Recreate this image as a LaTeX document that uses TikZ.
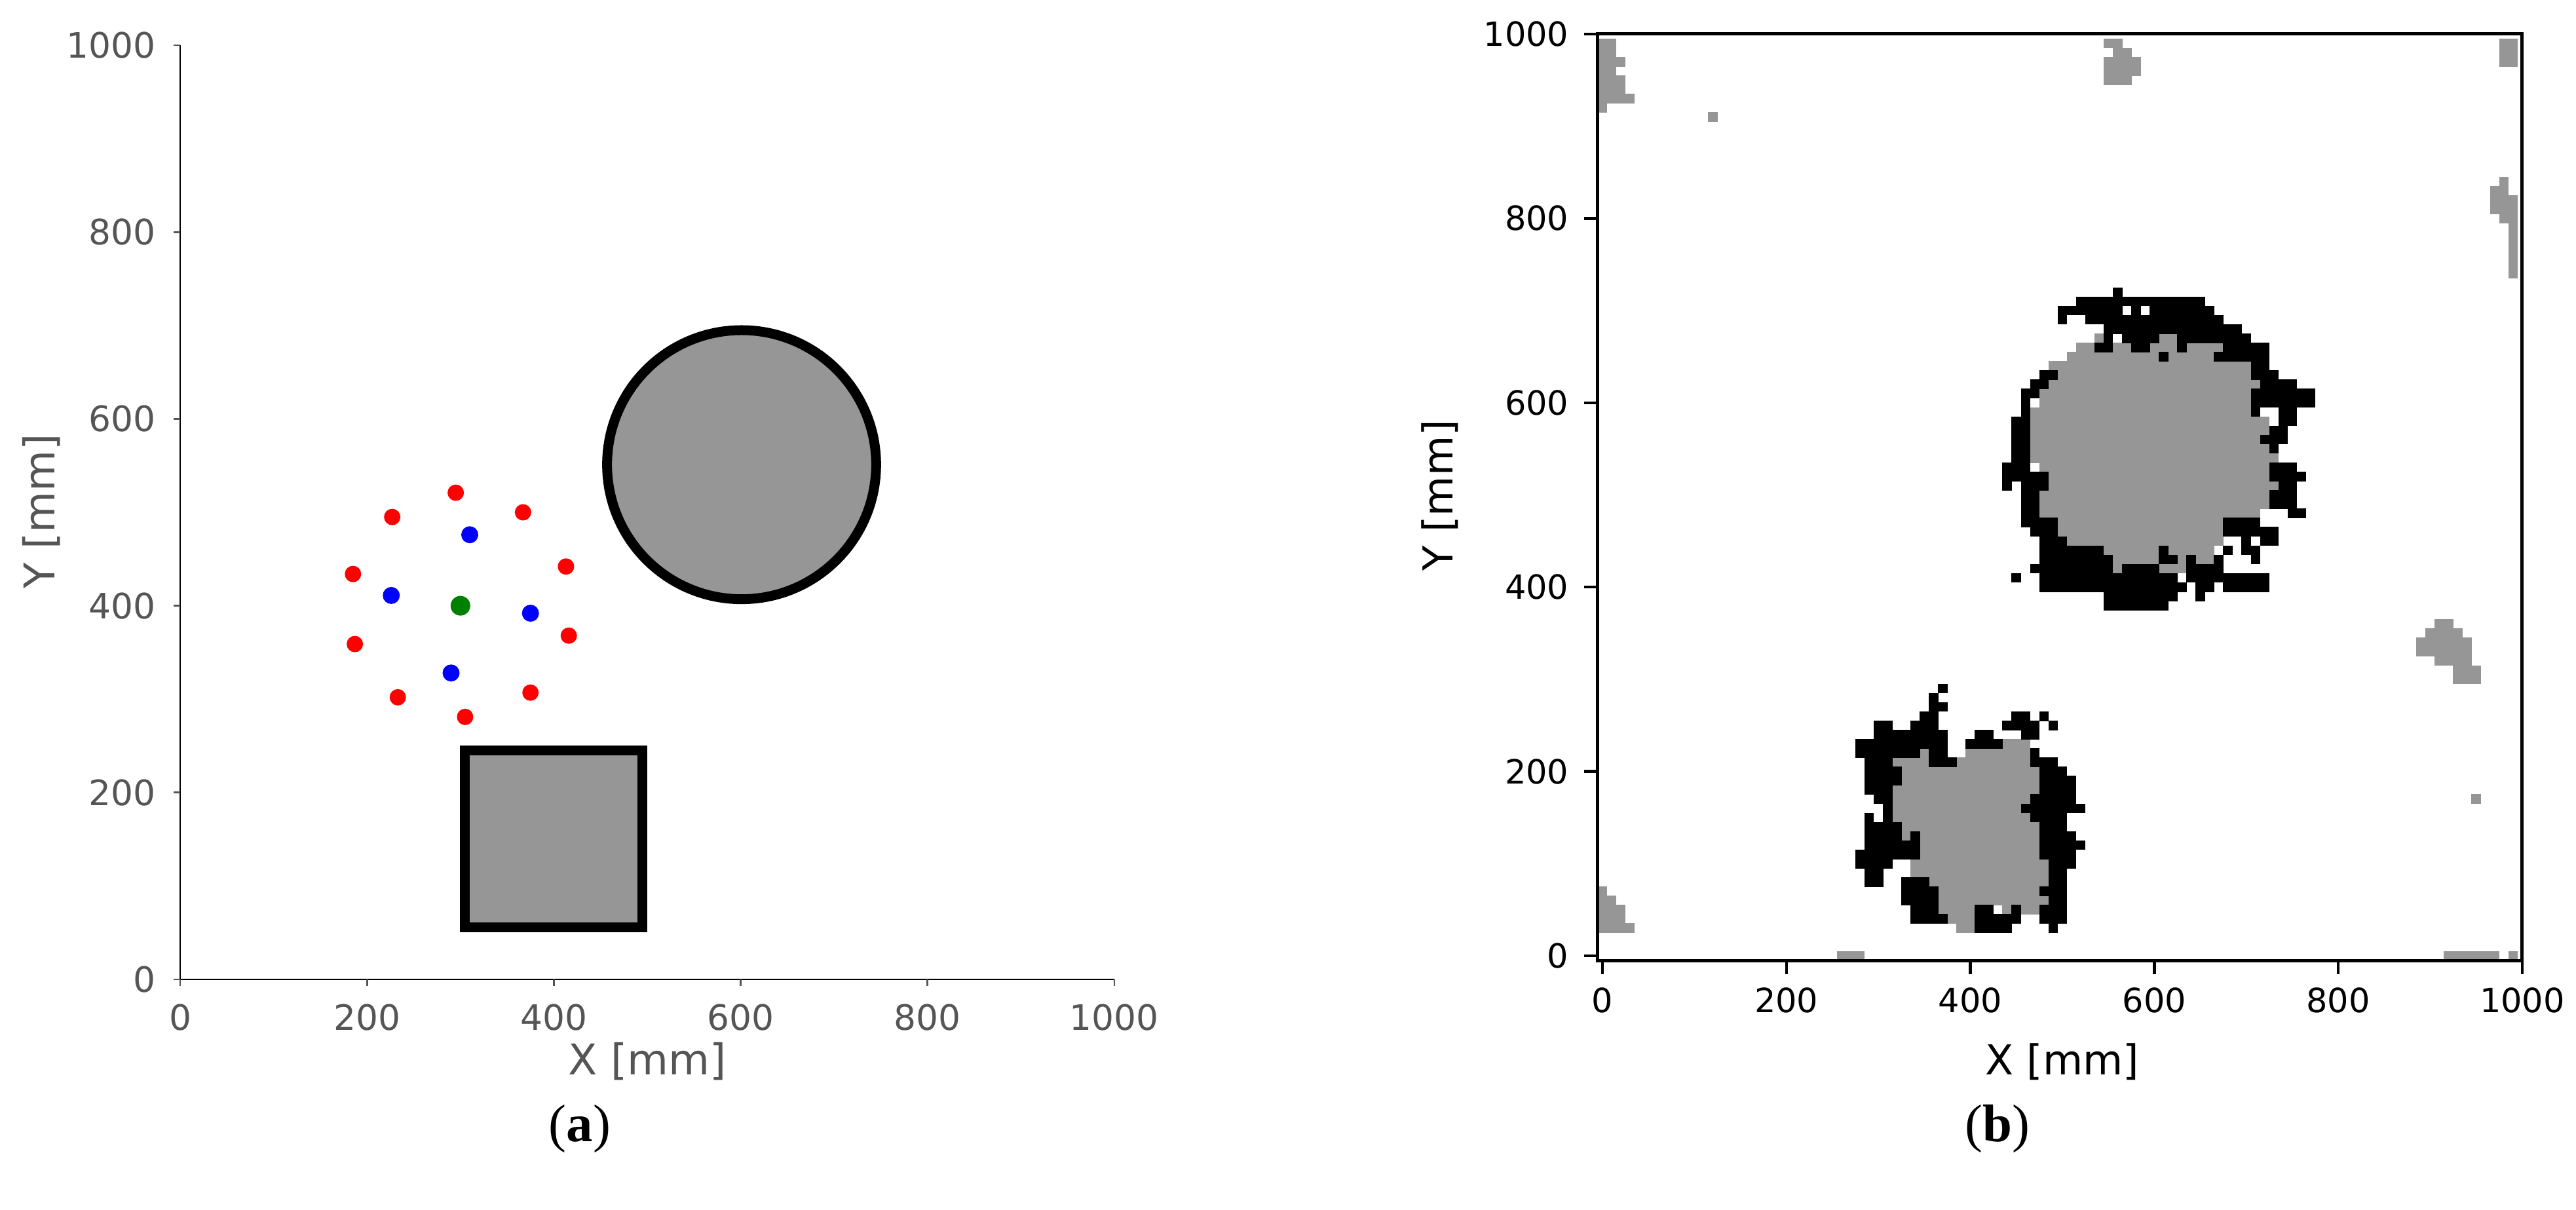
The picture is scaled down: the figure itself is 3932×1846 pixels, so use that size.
\documentclass[tikz,border=0pt]{standalone}
\usepackage{fontspec}
\setmainfont{DejaVu Sans}
\newfontfamily\capfont{Liberation Serif}
\definecolor{cellgray}{RGB}{150,150,150}
\definecolor{labgray}{RGB}{85,85,85}
\definecolor{dotred}{RGB}{255,0,0}
\definecolor{dotblue}{RGB}{0,0,255}
\definecolor{dotgreen}{RGB}{0,128,0}
\begin{document}
\begin{tikzpicture}[x=0.1mm,y=-0.1mm,
  lticklab/.style={font=\fontsize{15.2}{16}\selectfont, text=labgray, inner sep=0pt},
  laxlab/.style={font=\fontsize{18.4}{20}\selectfont, text=labgray, inner sep=0pt},
  rticklab/.style={font=\fontsize{14.5}{16}\selectfont, text=black, inner sep=0pt},
  raxlab/.style={font=\fontsize{17.9}{20}\selectfont, text=black, inner sep=0pt},
  laxis/.style={line width=0.27mm, black},
  ltick/.style={line width=0.27mm, labgray},
  rframe/.style={line width=0.5mm, black},
  rtick/.style={line width=0.45mm, black},
  obstacle/.style={fill=cellgray, draw=black, line width=1.5mm},
  caption/.style={font=\capfont\fontsize{23}{26}\selectfont, inner sep=0pt}]
\useasboundingbox (0,0) rectangle (3932,1846);

% ---------------- left plot (a) ----------------
\begin{scope}[shift={(27.5mm,-149.5mm)}, x=0.1426mm, y=0.1426mm]
  \draw[laxis] (0,0) coordinate (lo) -- (1000,0) coordinate (lx);
  \draw[laxis] (lo) -- (0,1000) coordinate (ly);
  \foreach \v in {0,200,400,600,800,1000} {
    \draw[ltick] (\v,0) -- ++(0,-1mm);
    \draw[ltick] (0,\v) -- ++(-1mm,0);
    \node[lticklab, anchor=north] (lxt\v) at ([yshift=-3.7mm]\v,0) {\v};
    \node[lticklab, anchor=east] (lyt\v) at ([xshift=-3.7mm]0,\v) {\v};
  }
  \draw[obstacle] (601,551) circle[radius=144];
  \draw[obstacle] (305,56) rectangle (495,245);
  \foreach \px/\py in {295/521,227/495,367/500,185/434,413/442,187/359,416/368,233/302,375/307,305/281}
    \fill[dotred] (\px,\py) circle[radius=1.25mm];
  \foreach \px/\py in {310/476,226/411,375/392,290/328}
    \fill[dotblue] (\px,\py) circle[radius=1.3mm];
  \fill[dotgreen] (300,400) circle[radius=1.5mm];
\end{scope}
\node[laxlab, anchor=base] (lxlab) at (988,1640) {X [mm]};
\node[laxlab, anchor=base, rotate=90] (lylab) at (83,780) {Y [mm]};

% ---------------- right plot (b) ----------------
\begin{scope}[shift={(244.6mm,-145.9mm)}, x=0.1404mm, y=0.1407mm]
  % gray cells
  \foreach \j/\r in {
    99/{0/1,55/56,98/99}, 98/{0/1,56/57,98/99}, 97/{0/2,55/58,98/99}, 96/{0/1,55/58},
    95/{0/2,55/57}, 94/{0/2}, 93/{0/3}, 92/{0/0}, 91/{12/12},
    84/{98/98}, 83/{97/98}, 82/{97/99}, 81/{97/99}, 80/{98/99},
    79/{99/99}, 78/{99/99}, 77/{99/99}, 76/{99/99}, 75/{99/99}, 74/{99/99},
    67/{54/54,61/62}, 66/{52/53,56/57,60/62,64/67}, 65/{51/60,62/66}, 64/{49/70},
    63/{50/70}, 62/{49/71}, 61/{48/70}, 60/{48/70}, 59/{47/70}, 58/{47/72},
    57/{47/72}, 56/{47/71}, 55/{47/72}, 54/{47/73}, 53/{48/72}, 52/{49/72},
    51/{49/73}, 50/{48/72}, 49/{48/72}, 48/{48/71}, 47/{50/67}, 46/{50/67},
    45/{51/67}, 44/{55/60,62/66}, 43/{56/60,63/63,65/66}, 42/{56/56,61/63},
    36/{91/92}, 35/{90/93}, 34/{89/94}, 33/{89/94}, 32/{91/94}, 31/{93/95}, 30/{93/95},
    23/{44/46}, 22/{35/35,40/46}, 21/{32/35,39/46}, 20/{33/47}, 19/{33/47},
    18/{32/47}, 17/{32/46}, 16/{32/45}, 15/{32/46}, 14/{33/47}, 13/{33/33,35/47},
    12/{35/47}, 11/{35/47}, 10/{34/48}, 9/{34/48}, 8/{36/48}, 7/{0/0,37/47},
    6/{0/1,37/48}, 5/{0/2,37/40,44/44,46/47}, 4/{0/2,38/40}, 3/{0/3,39/40},
    17/{95/95}, 0/{26/28,92/97,99/99}}
  {
    \foreach \a/\b in \r
      \fill[cellgray] (\a*10-5.2,\j*10-5.2) rectangle (\b*10+5.2,\j*10+5.2);
  }
  % black cells
  \foreach \j/\r in {
    72/{56/56}, 71/{52/65}, 70/{50/56,58/58,60/66}, 69/{50/50,53/67}, 68/{55/69},
    67/{55/55,57/60,63/70}, 66/{54/55,58/59,63/63,68/72}, 65/{61/61,67/72},
    64/{71/72}, 63/{48/49,71/73}, 62/{47/48,72/75}, 61/{46/47,71/77},
    60/{46/46,71/77}, 59/{46/46,71/71,74/75}, 58/{45/46,74/75}, 57/{45/46,73/74},
    56/{45/46,72/74}, 55/{45/46,73/73}, 54/{45/46}, 53/{44/46,73/75},
    52/{44/48,73/76}, 51/{44/44,46/48,74/75}, 50/{46/47,73/75}, 49/{46/47,73/75},
    48/{46/47,75/76}, 47/{46/49,68/71}, 46/{47/49,68/73}, 45/{48/50,70/70,72/73},
    44/{48/54,61/61,68/68,70/71}, 43/{48/55,61/62,64/64,67/67,71/71},
    42/{47/55,57/60,64/67}, 41/{45/45,48/62,64/72}, 40/{48/63,65/66,68/72},
    39/{55/62,65/65}, 38/{55/61},
    29/{37/37}, 28/{36/36}, 27/{36/37}, 26/{35/36,45/46,48/48},
    25/{30/31,34/36,44/47,49/49}, 24/{30/37,41/42,46/47}, 23/{28/37,40/43},
    22/{28/34,36/37,47/47}, 21/{29/31,36/38,47/49}, 20/{29/32,48/50},
    19/{29/32,48/51}, 18/{29/31,48/51}, 17/{30/31,47/51}, 16/{31/31,46/52},
    15/{29/29,31/31,47/50}, 14/{29/32,48/50}, 13/{29/32,34/34,48/51},
    12/{29/34,48/52}, 11/{28/34,48/51}, 10/{28/31,49/51}, 9/{29/30,49/50},
    8/{29/30,33/35,49/50}, 7/{33/36,48/50}, 6/{33/36,49/50},
    5/{34/36,41/42,45/45,48/50}, 4/{34/37,41/45,48/50}, 3/{41/44,49/49}}
  {
    \foreach \a/\b in \r
      \fill[black] (\a*10-5.2,\j*10-5.2) rectangle (\b*10+5.2,\j*10+5.2);
  }
  \draw[rframe] (-5,-5) coordinate (ro) rectangle (1000,1000) coordinate (rtr);
  \foreach \v in {0,200,400,600,800,1000} {
    \draw[rtick] (\v,-5) -- ++(0,-2.1mm);
    \draw[rtick] (-5,\v) -- ++(-2.1mm,0);
    \node[rticklab, anchor=north] (rxt\v) at ([yshift=-4.1mm]\v,-5) {\v};
    \node[rticklab, anchor=east] (ryt\v) at ([xshift=-4.4mm]-5,\v) {\v};
  }
\end{scope}
\node[raxlab, anchor=base] (rxlab) at (3148,1640) {X [mm]};
\node[raxlab, anchor=base, rotate=90] (rylab) at (2217,756) {Y [mm]};

% ---------------- captions ----------------
\node[caption] (capa) at (885,1723) {(\textbf{a})};
\node[caption] (capb) at (3049,1723) {(\textbf{b})};
\end{tikzpicture}
\end{document}
